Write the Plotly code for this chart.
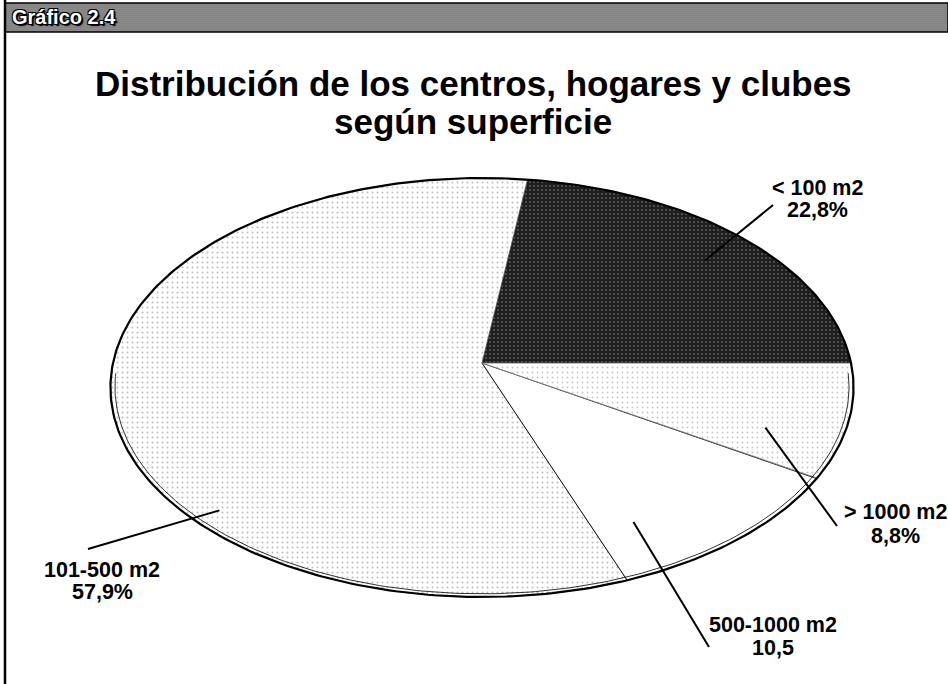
import numpy as np
import plotly.graph_objects as go

# ---------------- data ----------------
categories = ["< 100 m2", "101-500 m2", "500-1000 m2", "> 1000 m2"]
values = [22.8, 57.9, 10.5, 8.8]
value_labels = ["22,8%", "57,9%", "10,5", "8,8%"]
chart_tag = "Gráfico 2.4"
title_lines = ["Distribución de los centros, hogares y clubes", "según superficie"]

# ---------------- styling ----------------
W, H = 948, 684
CX, CY = 482, 363            # apex of the tilted pie (pixels)
A, B, K = 369, 206.6, 0.117  # perspective ellipse parameters

slice_styles = [
    dict(fillcolor="#1e1e1e", pattern=dict(shape=".", fgcolor="#ffffff", bgcolor="#1e1e1e", size=4, solidity=0.12), line="#000000"),
    dict(fillcolor="#ffffff", pattern=dict(shape=".", fgcolor="#7a7a7a", bgcolor="#ffffff", size=5, solidity=0.12), line="#555555"),
    dict(fillcolor="#ffffff", pattern=None, line="#000000"),
    dict(fillcolor="#ffffff", pattern=dict(shape=".", fgcolor="#8a8a8a", bgcolor="#ffffff", size=5, solidity=0.10), line="#777777"),
]
# leader line: (fraction within slice, radius) -> outer end (px)
leader_inner = [(0.48, 0.83), (0.686, 0.93), (0.2, 0.8), (0.3, 0.8)]
leader_outer = [(773, 205), (88, 549), (709, 647), (837, 526)]
# label line centres (px): (x, y_name, y_value)
label_pos = [(817, 188, 210), (102, 570, 592), (773, 625, 648), (895, 512, 536)]

FONT = "Liberation Sans, Arial, sans-serif"


def proj(r, th):
    w = 1 - K * r * np.sin(th)
    return CX + A * r * np.cos(th) / w, CY + B * r * np.sin(th) / w


fig = go.Figure()

# header band
fig.add_trace(go.Scatter(
    x=[5, W, W, 5, 5], y=[3, 3, 32, 32, 3], mode="lines", fill="toself",
    fillcolor="#8c8c8c",
    fillpattern=dict(shape=".", fgcolor="#2c2c2c", bgcolor="#a6a6a6", size=2, solidity=0.6),
    line=dict(color="#000000", width=1.5), hoverinfo="skip", showlegend=False))

# slices
total = sum(values)
start = 0.0
bounds = []
for v in values:
    span = v / total * 2 * np.pi
    bounds.append((start, start - span))
    start -= span

for (t0, t1), st, name in zip(bounds, slice_styles, categories):
    th = np.linspace(t0, t1, 200)
    ex, ey = proj(1.0, th)
    xs = np.concatenate([[CX], ex, [CX]])
    ys = np.concatenate([[CY], ey, [CY]])
    kw = dict(fillcolor=st["fillcolor"])
    if st["pattern"] is not None:
        kw["fillpattern"] = st["pattern"]
    fig.add_trace(go.Scatter(x=xs, y=ys, mode="lines", fill="toself",
                             line=dict(color=st["line"], width=0.9),
                             name=name, hoverinfo="name", showlegend=False, **kw))

# outline of the pie (thick rim + thin inner rim on the near side)
th = np.linspace(0, 2 * np.pi, 400)
ox, oy = proj(1.0, th)
fig.add_trace(go.Scatter(x=ox, y=oy, mode="lines", line=dict(color="#000000", width=2.2),
                         hoverinfo="skip", showlegend=False))
th2 = np.linspace(0.05, np.pi - 0.05, 200)
ix, iy = proj(0.988, th2)
fig.add_trace(go.Scatter(x=ix, y=iy, mode="lines", line=dict(color="#000000", width=0.8),
                         hoverinfo="skip", showlegend=False))

shapes = []
annotations = []
lab_font = dict(family=FONT, size=21.5, color="#000000", weight="bold")
for (t0, t1), (f, r), (ox2, oy2), (lx, ly1, ly2), cat, vl in zip(
        bounds, leader_inner, leader_outer, label_pos, categories, value_labels):
    tm = t0 + (t1 - t0) * f
    px, py = proj(r, tm)
    shapes.append(dict(type="line", x0=float(px), y0=float(py), x1=ox2, y1=oy2,
                       xref="x", yref="y", line=dict(color="#000000", width=2)))
    annotations.append(dict(x=lx, y=ly1, xref="x", yref="y", text=cat, showarrow=False,
                            yanchor="middle", font=lab_font))
    annotations.append(dict(x=lx, y=ly2, xref="x", yref="y", text=vl, showarrow=False,
                            yanchor="middle", font=lab_font))

# left frame line
shapes.append(dict(type="line", x0=5, y0=0, x1=5, y1=H, xref="x", yref="y",
                   line=dict(color="#000000", width=2.5)))

title_font = dict(family=FONT, size=35, color="#000000", weight="bold")
for ty, tl in zip([83, 121], title_lines):
    annotations.append(dict(x=473, y=ty, xref="x", yref="y", text=tl, showarrow=False,
                            yanchor="middle", font=title_font))
annotations.append(dict(x=10, y=17, xref="x", yref="y", text=chart_tag, showarrow=False,
                        xanchor="left", yanchor="middle",
                        font=dict(family=FONT, size=20, color="#ffffff", weight="bold",
                                  shadow="1px 1px 0 #000, -1px -1px 0 #000, 1px -1px 0 #000, -1px 1px 0 #000, 2px 2px 1px #000")))

fig.update_layout(
    width=W, height=H, autosize=False,
    margin=dict(l=0, r=0, t=0, b=0),
    paper_bgcolor="#ffffff", plot_bgcolor="#ffffff",
    xaxis=dict(range=[0, W], visible=False, fixedrange=True),
    yaxis=dict(range=[H, 0], visible=False, fixedrange=True),
    shapes=shapes, annotations=annotations, showlegend=False,
)

fig.write_html("out.html", config={"displayModeBar": False},
               post_script="document.body.style.margin='0';document.body.style.overflow='hidden';")
